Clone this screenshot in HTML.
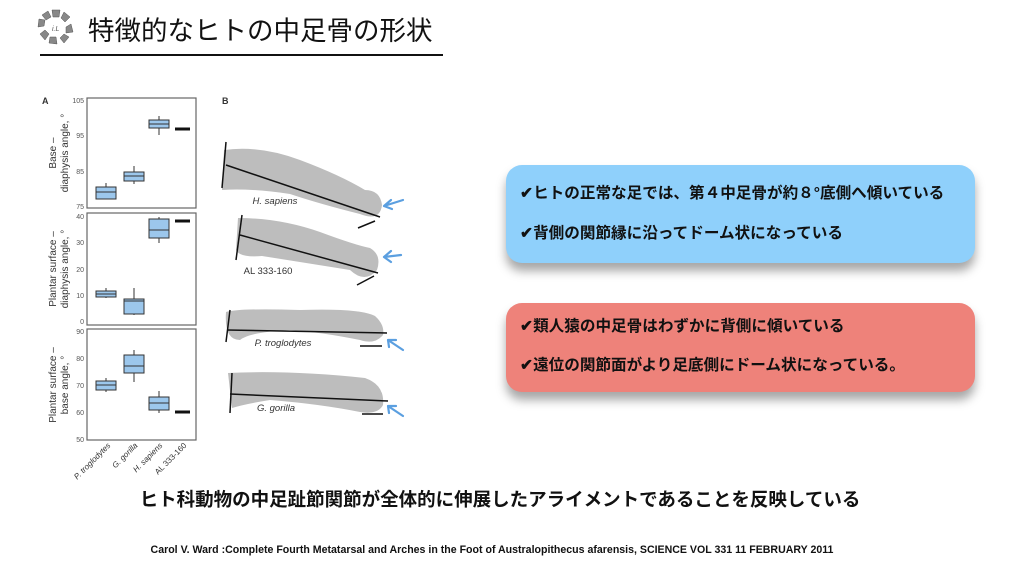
<!DOCTYPE html><html><head><meta charset="utf-8"><style>
body{margin:0;width:1024px;height:576px;background:#fff;position:relative;overflow:hidden;font-family:"Liberation Sans","Noto Sans CJK JP",sans-serif}
.t{position:absolute;white-space:nowrap}
.box{position:absolute;left:506px;width:469px;border-radius:16px;box-shadow:0 8px 10px rgba(0,0,0,.35)}
.bl{font-weight:bold;font-size:15.6px;color:#111;position:absolute;left:14px}
</style></head><body>
<svg width="1024" height="576" style="position:absolute;left:0;top:0">
<g fill="#888" stroke="#555" stroke-width="0.5">
<path d="M52 10 l8 0 l-1 7 l-6 0z"/><path d="M64 12 l6 5 l-5 5 l-4 -4z"/><path d="M71 24 l2 8 l-7 1 l0 -6z"/><path d="M69 37 l-5 6 l-4 -5 l4 -4z"/><path d="M57 44 l-8 -1 l1 -6 l6 0z"/><path d="M45 40 l-5 -6 l5 -4 l4 4z"/><path d="M38 27 l1 -8 l6 1 l-1 6z"/><path d="M42 15 l6 -4 l3 6 l-5 3z"/>
</g>
<text x="52" y="31" font-size="7" fill="#555" font-style="italic">i.L</text>
<line x1="40" y1="55" x2="443" y2="55" stroke="#111" stroke-width="2"/>
<g font-family="Liberation Sans" fill="#333">
<text x="42" y="104" font-size="9" font-weight="bold">A</text>
<text x="222" y="104" font-size="9" font-weight="bold">B</text>
<g fill="none" stroke="#666" stroke-width="1.2">
<rect x="87" y="98" width="109" height="110"/><rect x="87" y="213" width="109" height="112"/><rect x="87" y="329" width="109" height="111"/>
</g>
<g font-size="7" fill="#555" text-anchor="end">
<text x="84" y="103">105</text><text x="84" y="138">95</text><text x="84" y="174">85</text><text x="84" y="209">75</text>
<text x="84" y="219">40</text><text x="84" y="245">30</text><text x="84" y="272">20</text><text x="84" y="298">10</text><text x="84" y="324">0</text>
<text x="84" y="334">90</text><text x="84" y="361">80</text><text x="84" y="388">70</text><text x="84" y="415">60</text><text x="84" y="442">50</text>
</g>
<g font-size="10" fill="#333" text-anchor="middle">
<text transform="translate(56,153) rotate(-90)">Base –</text>
<text transform="translate(68,153) rotate(-90)">diaphysis  angle, °</text>
<text transform="translate(56,269) rotate(-90)">Plantar surface –</text>
<text transform="translate(68,269) rotate(-90)">diaphysis  angle, °</text>
<text transform="translate(56,385) rotate(-90)">Plantar surface –</text>
<text transform="translate(68,385) rotate(-90)">base angle, °</text>
</g>
<g font-size="8" fill="#333" font-style="italic" text-anchor="end">
<text transform="translate(111,446) rotate(-45)">P. troglodytes</text>
<text transform="translate(138,446) rotate(-45)">G. gorilla</text>
<text transform="translate(163,446) rotate(-45)">H. sapiens</text>
<text transform="translate(187,446) rotate(-45)" font-style="normal">AL 333-160</text>
</g>
<g fill="#9cc7ec" stroke="#333" stroke-width="1">
<line x1="106" y1="183" x2="106" y2="199"/><rect x="96" y="187" width="20" height="12"/><line x1="96" y1="192" x2="116" y2="192"/>
<line x1="134" y1="166" x2="134" y2="184"/><rect x="124" y="172" width="20" height="9"/><line x1="124" y1="176" x2="144" y2="176"/>
<line x1="159" y1="116" x2="159" y2="135"/><rect x="149" y="120" width="20" height="8"/><line x1="149" y1="124" x2="169" y2="124"/>
<line x1="106" y1="288" x2="106" y2="298"/><rect x="96" y="291" width="20" height="6"/><line x1="96" y1="294" x2="116" y2="294"/>
<line x1="134" y1="288" x2="134" y2="315"/><rect x="124" y="299" width="20" height="15"/><line x1="124" y1="301" x2="144" y2="301"/>
<line x1="159" y1="217" x2="159" y2="243"/><rect x="149" y="219" width="20" height="19"/><line x1="149" y1="230" x2="169" y2="230"/>
<line x1="106" y1="378" x2="106" y2="392"/><rect x="96" y="381" width="20" height="9"/><line x1="96" y1="385" x2="116" y2="385"/>
<line x1="134" y1="350" x2="134" y2="382"/><rect x="124" y="355" width="20" height="18"/><line x1="124" y1="366" x2="144" y2="366"/>
<line x1="159" y1="391" x2="159" y2="413"/><rect x="149" y="397" width="20" height="13"/><line x1="149" y1="403" x2="169" y2="403"/>
</g>
<g stroke="#111" stroke-width="3"><line x1="175" y1="129" x2="190" y2="129"/><line x1="175" y1="221" x2="190" y2="221"/><line x1="175" y1="412" x2="190" y2="412"/></g>
</g>
<g fill="#bdbdbd">
<path d="M224 150 Q260 145 300 160 Q340 175 365 190 Q380 190 382 205 Q380 222 360 214 Q320 204 290 194 Q250 188 222 190z"/>
<path d="M238 218 Q280 218 320 232 Q355 245 370 248 Q382 255 377 270 Q365 284 350 270 Q300 262 262 256 Q240 258 236 250z"/>
<path d="M226 312 Q240 308 300 310 Q360 308 375 316 Q385 325 383 335 Q375 345 360 340 Q320 332 290 330 Q250 332 240 340 Q224 340 226 312z"/>
<path d="M228 373 Q290 370 365 378 Q385 385 383 405 Q378 415 360 412 Q320 404 270 400 Q245 404 232 408z"/>
</g>
<g stroke="#111" stroke-width="1.5">
<line x1="226" y1="142" x2="222" y2="188"/><line x1="226" y1="165" x2="380" y2="217"/><line x1="358" y1="228" x2="375" y2="221"/>
<line x1="242" y1="215" x2="236" y2="260"/><line x1="240" y1="235" x2="378" y2="273"/><line x1="357" y1="285" x2="374" y2="276"/>
<line x1="230" y1="310" x2="226" y2="342"/><line x1="227" y1="330" x2="387" y2="333"/><line x1="360" y1="346" x2="382" y2="346"/>
<line x1="232" y1="373" x2="230" y2="413"/><line x1="230" y1="394" x2="388" y2="401"/><line x1="362" y1="414" x2="383" y2="414"/>
</g>
<g stroke="#5b9fe0" stroke-width="2.2" fill="none" stroke-linecap="round">
<path d="M403 200 L384 206 M384 206 l7 -6 M384 206 l8 3"/>
<path d="M401 255 L384 257 M384 257 l7 -6 M384 257 l7 5"/>
<path d="M403 350 L388 340 M388 340 l8 0 M388 340 l1 7"/>
<path d="M403 416 L388 406 M388 406 l8 0 M388 406 l1 7"/>
</g>
<g font-family="Liberation Sans" font-size="9.5" fill="#333" text-anchor="middle">
<text x="275" y="204" font-style="italic">H. sapiens</text>
<text x="268" y="274">AL 333-160</text>
<text x="283" y="346" font-style="italic">P. troglodytes</text>
<text x="276" y="411" font-style="italic">G. gorilla</text>
</g>
</svg>
<div class="t" style="left:88px;top:9px;font-size:26.5px;color:#111">特徴的なヒトの中足骨の形状</div>
<div class="box" style="top:165px;height:98px;background:#8fd0fb">
<div class="bl" style="top:16px">✔ヒトの正常な足では、第４中足骨が約８°底側へ傾いている</div>
<div class="bl" style="top:56px">✔背側の関節縁に沿ってドーム状になっている</div>
</div>
<div class="box" style="top:303px;height:89px;background:#ee827a">
<div class="bl" style="top:11px">✔類人猿の中足骨はわずかに背側に傾いている</div>
<div class="bl" style="top:50px">✔遠位の関節面がより足底側にドーム状になっている。</div>
</div>
<div class="t" style="left:0;width:1000px;text-align:center;top:486px;font-size:18.5px;font-weight:bold;color:#111">ヒト科動物の中足趾節関節が全体的に伸展したアライメントであることを反映している</div>
<div class="t" style="left:0;width:984px;text-align:center;top:544px;font-size:10.6px;font-weight:bold;color:#111">Carol V. Ward :Complete Fourth Metatarsal and Arches in the Foot of Australopithecus afarensis, SCIENCE VOL 331 11 FEBRUARY 2011</div>
</body></html>
